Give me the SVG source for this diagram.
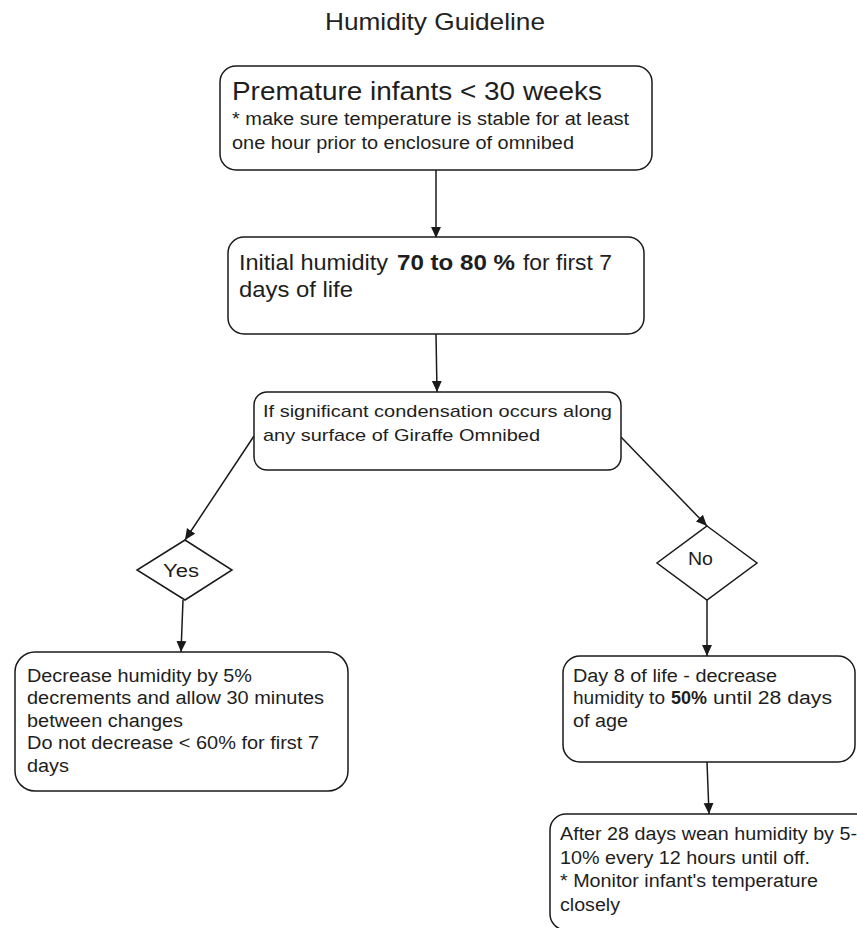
<svg xmlns="http://www.w3.org/2000/svg" width="857" height="928" viewBox="0 0 857 928">
<style>
.bg{fill:#ffffff}
.box{fill:#ffffff;stroke:#1a1a1a;stroke-width:1.5}
.conn line{stroke:#1a1a1a;stroke-width:1.5;fill:none}
text{font-family:"Liberation Sans",Arial,sans-serif;fill:#1e1e1e}
.title{font-size:24px;fill:#222}
.big{font-size:26px}
.t22{font-size:22px}
.t18{font-size:18px}
.t17{font-size:17px}
.b{font-weight:bold}
</style>
<defs>
<marker id="arr" markerUnits="userSpaceOnUse" markerWidth="11" markerHeight="11" refX="10" refY="5" orient="auto" viewBox="0 0 10 10">
<path d="M0,0.5 L10,5 L0,9.5 z" fill="#1a1a1a"/>
</marker>
</defs>
<rect class="bg" x="0" y="0" width="857" height="928"/>
<g id="title">
<text class="title" x="325" y="30" textLength="220" lengthAdjust="spacingAndGlyphs">Humidity Guideline</text>
</g>
<g class="conn" id="connectors">
<line x1="436" y1="170" x2="436" y2="238" marker-end="url(#arr)"/>
<line x1="436" y1="334" x2="437" y2="392" marker-end="url(#arr)"/>
<line x1="254" y1="436" x2="185" y2="540" marker-end="url(#arr)"/>
<line x1="621" y1="437" x2="707" y2="526" marker-end="url(#arr)"/>
<line x1="183" y1="600" x2="181" y2="652" marker-end="url(#arr)"/>
<line x1="707" y1="600" x2="707" y2="656" marker-end="url(#arr)"/>
<line x1="707" y1="762" x2="709" y2="814" marker-end="url(#arr)"/>
</g>
<g id="node-premature">
<rect class="box" x="220" y="66" width="432" height="104" rx="16"/>
<text class="big" x="232" y="100" textLength="370" lengthAdjust="spacingAndGlyphs">Premature infants &lt; 30 weeks</text>
<text class="t18" x="232" y="125" textLength="397" lengthAdjust="spacingAndGlyphs">* make sure temperature is stable for at least</text>
<text class="t18" x="232" y="149" textLength="342" lengthAdjust="spacingAndGlyphs">one hour prior to enclosure of omnibed</text>
</g>
<g id="node-initial">
<rect class="box" x="228" y="237" width="416" height="97" rx="16"/>
<text class="t22" y="270"><tspan x="239" textLength="149" lengthAdjust="spacingAndGlyphs">Initial humidity</tspan><tspan class="b" x="397" textLength="118" lengthAdjust="spacingAndGlyphs">70 to 80 %</tspan><tspan x="523" textLength="89" lengthAdjust="spacingAndGlyphs">for first 7</tspan></text>
<text class="t22" x="239" y="297" textLength="114" lengthAdjust="spacingAndGlyphs">days of life</text>
</g>
<g id="node-condensation">
<rect class="box" x="254" y="392" width="367" height="78" rx="13"/>
<text class="t17" x="263" y="417" textLength="349" lengthAdjust="spacingAndGlyphs">If significant condensation occurs along</text>
<text class="t17" x="263" y="441" textLength="277" lengthAdjust="spacingAndGlyphs">any surface of Giraffe Omnibed</text>
</g>
<g id="node-yes">
<polygon class="box" points="185,540 232,570 185,600 137,570"/>
<text class="t18" x="163" y="577" textLength="36" lengthAdjust="spacingAndGlyphs">Yes</text>
</g>
<g id="node-no">
<polygon class="box" points="707,526 757,563 707,600 657,563"/>
<text class="t18" x="688" y="565" textLength="25" lengthAdjust="spacingAndGlyphs">No</text>
</g>
<g id="node-decrease">
<rect class="box" x="15" y="652" width="333" height="139" rx="20"/>
<text class="t18" x="27" y="682" textLength="225" lengthAdjust="spacingAndGlyphs">Decrease humidity by 5%</text>
<text class="t18" x="27" y="704" textLength="297" lengthAdjust="spacingAndGlyphs">decrements and allow 30 minutes</text>
<text class="t18" x="27" y="727" textLength="156" lengthAdjust="spacingAndGlyphs">between changes</text>
<text class="t18" x="27" y="749" textLength="292" lengthAdjust="spacingAndGlyphs">Do not decrease &lt; 60% for first 7</text>
<text class="t18" x="27" y="772" textLength="42" lengthAdjust="spacingAndGlyphs">days</text>
</g>
<g id="node-day8">
<rect class="box" x="563" y="656" width="292" height="106" rx="17"/>
<text class="t18" x="573" y="682" textLength="204" lengthAdjust="spacingAndGlyphs">Day 8 of life - decrease</text>
<text class="t18" y="704"><tspan x="573" textLength="92" lengthAdjust="spacingAndGlyphs">humidity to</tspan><tspan class="b" x="671" textLength="36" lengthAdjust="spacingAndGlyphs">50%</tspan><tspan x="713" textLength="119" lengthAdjust="spacingAndGlyphs">until 28 days</tspan></text>
<text class="t18" x="573" y="727" textLength="55" lengthAdjust="spacingAndGlyphs">of age</text>
</g>
<g id="node-after28">
<rect class="box" x="550" y="814" width="340" height="116" rx="16"/>
<text class="t18" x="560" y="840" textLength="297" lengthAdjust="spacingAndGlyphs">After 28 days wean humidity by 5-</text>
<text class="t18" x="560" y="864" textLength="250" lengthAdjust="spacingAndGlyphs">10% every 12 hours until off.</text>
<text class="t18" x="560" y="887" textLength="258" lengthAdjust="spacingAndGlyphs">* Monitor infant's temperature</text>
<text class="t18" x="560" y="911" textLength="60" lengthAdjust="spacingAndGlyphs">closely</text>
</g>
</svg>
